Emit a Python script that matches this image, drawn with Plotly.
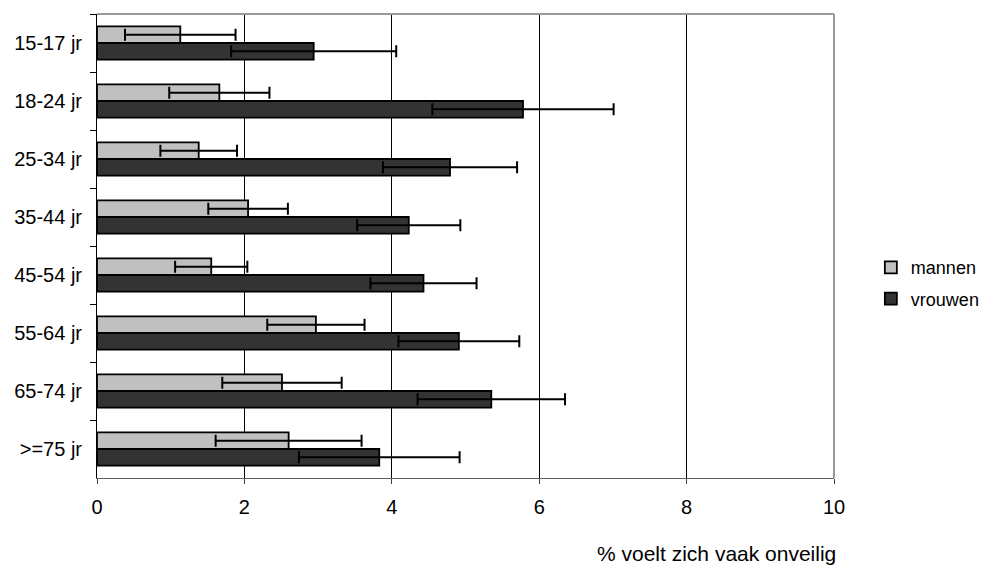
import plotly.graph_objects as go

categories = ["15-17 jr", "18-24 jr", "25-34 jr", "35-44 jr", "45-54 jr", "55-64 jr", "65-74 jr", ">=75 jr"]
mannen = [1.13, 1.66, 1.38, 2.05, 1.55, 2.97, 2.51, 2.60]
mannen_err = [0.75, 0.68, 0.52, 0.54, 0.49, 0.66, 0.81, 0.99]
vrouwen = [2.94, 5.78, 4.79, 4.23, 4.43, 4.91, 5.35, 3.83]
vrouwen_err = [1.12, 1.23, 0.91, 0.70, 0.72, 0.82, 1.00, 1.09]
x_ticks = [0, 2, 4, 6, 8, 10]

FONT = "Liberation Sans, Arial, sans-serif"

fig = go.Figure()
fig.add_trace(go.Bar(
    y=categories, x=mannen, orientation="h", name="mannen",
    marker=dict(color="#c0c0c0", line=dict(color="black", width=1.8)),
    error_x=dict(type="data", array=mannen_err, symmetric=True,
                 color="black", thickness=2, width=6),
    legendgroup="m",
))
fig.add_trace(go.Bar(
    y=categories, x=vrouwen, orientation="h", name="vrouwen",
    marker=dict(color="#333333", line=dict(color="black", width=1.8)),
    error_x=dict(type="data", array=vrouwen_err, symmetric=True,
                 color="black", thickness=2, width=6),
    legendgroup="v",
))

fig.update_layout(
    width=981, height=559,
    margin=dict(l=89, r=155, t=6, b=89, autoexpand=False),
    paper_bgcolor="white", plot_bgcolor="white",
    barmode="group", bargap=0.425, bargroupgap=0,
    font=dict(family=FONT, color="black", size=20),
    showlegend=True,
    legend=dict(x=1.05, y=0.42, xanchor="left", yanchor="middle",
                font=dict(size=18, family=FONT), traceorder="grouped",
                tracegroupgap=5, bgcolor="rgba(0,0,0,0)"),
    xaxis=dict(range=[0, 10], tickvals=x_ticks, ticks="outside", ticklen=5,
               tickcolor="#404040", showgrid=True, gridcolor="black", gridwidth=1,
               zeroline=False, showline=True, linecolor="#606060", linewidth=1,
               tickfont=dict(size=20), ticklabelstandoff=6),
    yaxis=dict(categoryorder="array", categoryarray=categories, autorange="reversed",
               ticks="outside", tickson="boundaries", ticklen=6, tickcolor="black",
               showline=True, linecolor="black", linewidth=1, showgrid=False,
               tickfont=dict(size=20), ticklabelstandoff=10),
    shapes=[
        dict(type="line", xref="paper", yref="paper", x0=0, x1=1, y0=1, y1=1,
             line=dict(color="#999999", width=2)),
        dict(type="line", xref="paper", yref="paper", x0=1, x1=1, y0=0, y1=1,
             line=dict(color="#999999", width=2)),
    ],
    annotations=[
        dict(text="% voelt zich vaak onveilig", xref="paper", yref="paper",
             x=1.006, y=-0.163, xanchor="right", yanchor="middle",
             showarrow=False, font=dict(size=21, family=FONT)),
    ],
)

fig.write_html("out.html")
